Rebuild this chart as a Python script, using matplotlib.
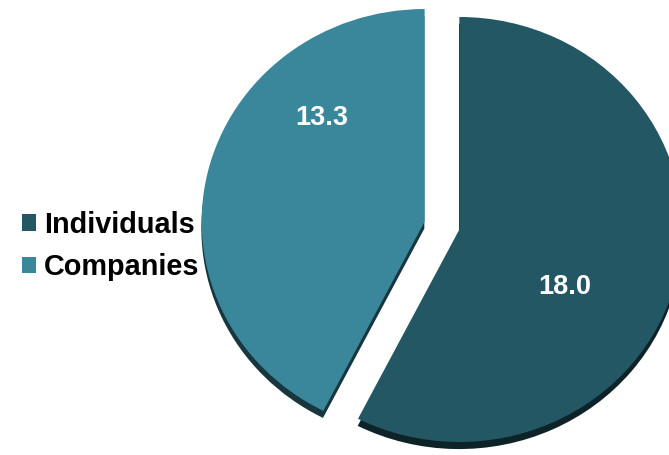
import matplotlib
matplotlib.use("Agg")
import matplotlib.pyplot as plt

categories = ["Individuals", "Companies"]
values = [18.0, 13.3]
value_labels = ["18.0", "13.3"]
colors = ["#245764", "#3a879b"]

W, H = 669, 455
fig = plt.figure(figsize=(W / 100, H / 100), dpi=100)
ax = fig.add_axes([0, 0, 1, 1])

cx, cy = 442, 225.5   # pie centre in pixels (from top)
rx, ry = 223, 212.5   # pixel per data unit

wedges, texts = ax.pie(
    values, colors=colors, startangle=90, counterclock=False,
    explode=[0.08, 0.08], labels=None,
    wedgeprops=dict(linewidth=0),
    shadow={'ox': -0.001, 'oy': -0.024, 'shade': 0.6, 'alpha': 1.0},
)

ax.set_aspect('auto')
ax.set_xlim(-cx / rx, (W - cx) / rx)
ax.set_ylim(-(H - cy) / ry, cy / ry)
ax.axis('off')

label_pos = [((565 - cx) / rx, (cy - 287) / ry), ((322 - cx) / rx, (cy - 118) / ry)]
for txt, (x, y) in zip(value_labels, label_pos):
    ax.text(x, y, txt, ha='center', va='center', color='white',
            fontsize=19.5, fontweight='bold', family=['Liberation Sans', 'DejaVu Sans'])

leg = ax.legend(wedges, categories, loc='center left',
                bbox_to_anchor=(22 / W, 1 - 246 / H), bbox_transform=fig.transFigure,
                frameon=False, borderpad=0, borderaxespad=0,
                handlelength=0.5, handleheight=0.5, handletextpad=0.25,
                labelspacing=0.5,
                prop=dict(family=['Liberation Sans', 'DejaVu Sans'], weight='bold', size=20.8))

fig.savefig("out.png", dpi=100)
